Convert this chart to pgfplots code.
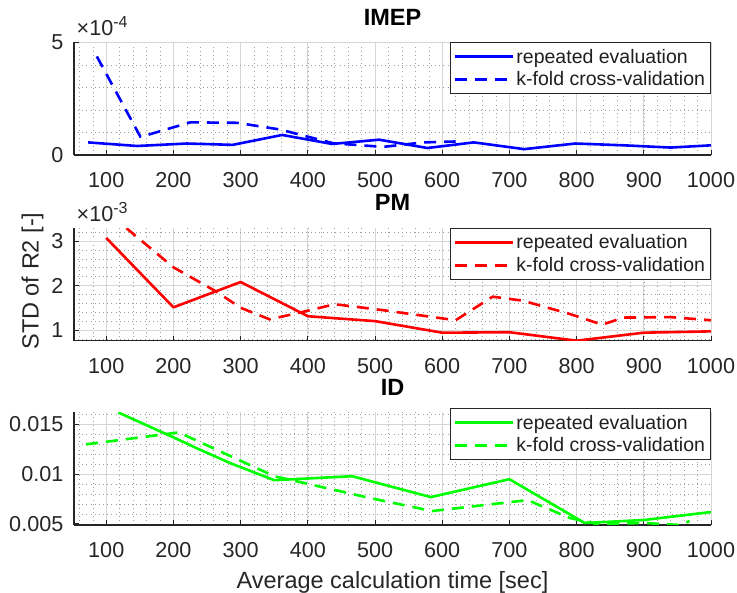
\documentclass[border=0pt]{standalone}
\usepackage{fontspec}
\setmainfont{Liberation Sans}
\usepackage{pgfplots}
\pgfplotsset{compat=1.18}

\definecolor{axgray}{HTML}{262626}
\definecolor{mblue}{RGB}{0,0,255}
\definecolor{mred}{RGB}{255,0,0}
\definecolor{mgreen}{RGB}{0,255,0}

\newcommand{\tickfont}{\fontsize{21.6}{25}\selectfont}
\newcommand{\legfont}{\fontsize{19.5}{23}\selectfont}
\newcommand{\labfont}{\fontsize{23.5}{27}\selectfont}

\pgfplotsset{
  panel/.style={
    scale only axis, width=637pt, height=112.5pt,
    xmin=52, xmax=1000,
    xtick={100,200,...,1000},
    minor xtick={60,80,...,1000},
    scaled x ticks=false, scaled y ticks=false,
    /pgf/number format/1000 sep={},
    axis lines*=left,
    axis line style={axgray, line width=1.1pt},
    tick align=inside, major tick length=5pt, minor tick length=0pt,
    tick style={axgray, line width=1pt},
    grid=both,
    major grid style={draw=black!16, line width=0.8pt},
    minor grid style={draw=black!38, line width=0.55pt, dash pattern=on 0.55pt off 3.6pt},
    tick label style={font=\tickfont, text=axgray},
    /pgf/number format/assume math mode=true,
    xticklabel style={anchor=base, yshift=-32.5pt, inner sep=0pt},
    yticklabel style={anchor=east, xshift=-10.5pt, inner sep=0pt},
    title style={font=\bfseries\labfont, at={(axis description cs:0.5,1)}, anchor=base, yshift=11.3pt},
    label style={font=\labfont, text=axgray},
    legend style={at={(rel axis cs:1,1)}, anchor=north east, draw=axgray, line width=0.9pt,
      fill=white, font=\legfont, inner xsep=3pt, inner ysep=2.4pt, row sep=0pt,
      nodes={inner xsep=2.5pt, inner ysep=3.6pt, text=black!88}},
    legend cell align=left,
    legend image code/.code={\draw[##1] (0pt,0pt) -- (58pt,0pt);},
  },
  rep/.style={line width=2.6pt, line join=round},
  kf/.style={line width=2.6pt, line join=round, dash pattern=on 12pt off 8pt},
}

\begin{document}
\begin{tikzpicture}
\useasboundingbox (0,0) rectangle (737pt,593pt);

% ---------------- IMEP ----------------
\begin{axis}[panel, name=imep, at={(74pt,438pt)}, anchor=south west,
  ymin=0, ymax=5e-4, ytick={0,5e-4}, yticklabels={0,5},
  minor ytick={1e-4,2e-4,3e-4,4e-4},
  title={IMEP}]
\addplot[rep, mblue] coordinates {
  (73,0.56e-4) (146,0.40e-4) (220,0.51e-4) (288,0.45e-4) (362,0.89e-4)
  (436,0.49e-4) (506,0.68e-4) (578,0.31e-4) (647,0.56e-4) (722,0.26e-4)
  (798,0.51e-4) (870,0.43e-4) (940,0.33e-4) (1000,0.43e-4)};
\addlegendentry{repeated evaluation}
\addplot[kf, mblue] coordinates {
  (86,4.38e-4) (151,0.80e-4) (225,1.45e-4) (295,1.43e-4) (359,1.13e-4)
  (438,0.52e-4) (512,0.36e-4) (572,0.56e-4) (620,0.60e-4)};
\addlegendentry{k-fold cross-validation}
\end{axis}
\node[anchor=base west, inner sep=0pt, text=axgray, font=\tickfont]
  at ([xshift=2.5pt, yshift=7.3pt]imep.north west)
  {×10\raisebox{8pt}{\fontsize{16}{16}\selectfont -4}};

% ---------------- PM ----------------
\begin{axis}[panel, name=pm, at={(74pt,252.3pt)}, anchor=south west,
  ymin=0.76e-3, ymax=3.29e-3, ytick={1e-3,2e-3,3e-3}, yticklabels={1,2,3},
  minor ytick={0.8e-3,1.2e-3,1.4e-3,1.6e-3,1.8e-3,2.2e-3,2.4e-3,2.6e-3,2.8e-3,3.2e-3},
  title={PM},
  ylabel={STD of R2 [-]},
  ylabel style={at={(axis description cs:-0.0652,0.53)}, anchor=center}]
\addplot[rep, mred] coordinates {
  (100,3.07e-3) (200,1.51e-3) (300,2.08e-3) (400,1.31e-3) (500,1.20e-3)
  (600,0.94e-3) (700,0.95e-3) (800,0.76e-3) (900,0.94e-3) (1000,0.97e-3)};
\addlegendentry{repeated evaluation}
\addplot[kf, mred] coordinates {
  (130,3.29e-3) (200,2.41e-3) (262,1.88e-3) (300,1.50e-3) (343,1.24e-3)
  (385,1.38e-3) (440,1.58e-3) (510,1.45e-3) (620,1.22e-3) (675,1.75e-3)
  (720,1.66e-3) (790,1.36e-3) (838,1.12e-3) (870,1.28e-3) (940,1.29e-3)
  (1000,1.22e-3)};
\addlegendentry{k-fold cross-validation}
\end{axis}
\node[anchor=base west, inner sep=0pt, text=axgray, font=\tickfont]
  at ([xshift=2.5pt, yshift=6.5pt]pm.north west)
  {×10\raisebox{8pt}{\fontsize{16}{16}\selectfont -3}};

% ---------------- ID ----------------
\begin{axis}[panel, name=id, at={(74pt,68pt)}, anchor=south west,
  ymin=0.0049, ymax=0.0162, ytick={0.005,0.01,0.015},
  yticklabels={0.005,0.01,0.015},
  minor ytick={0.006,0.007,0.008,0.009,0.011,0.012,0.013,0.014,0.016},
  title={ID},
  legend style={at={(rel axis cs:1,1)}, anchor=north east, yshift=4pt},
  xlabel={Average calculation time [sec]},
  xlabel style={at={(axis description cs:0.5,0)}, anchor=base, yshift=-64pt}]
\addplot[rep, mgreen] coordinates {
  (118,0.0162) (200,0.0137) (235,0.0126) (285,0.0111) (350,0.0094)
  (466,0.0098) (583,0.0077) (700,0.0095) (812,0.0051) (900,0.0054)
  (1000,0.0062)};
\addlegendentry{repeated evaluation}
\addplot[kf, mgreen] coordinates {
  (70,0.0130) (208,0.0142) (350,0.0098) (493,0.0076) (585,0.0063)
  (727,0.0074) (790,0.0056) (830,0.0050) (900,0.0051) (955,0.0049)
  (968,0.0053)};
\addlegendentry{k-fold cross-validation}
\end{axis}
\end{tikzpicture}
\end{document}
